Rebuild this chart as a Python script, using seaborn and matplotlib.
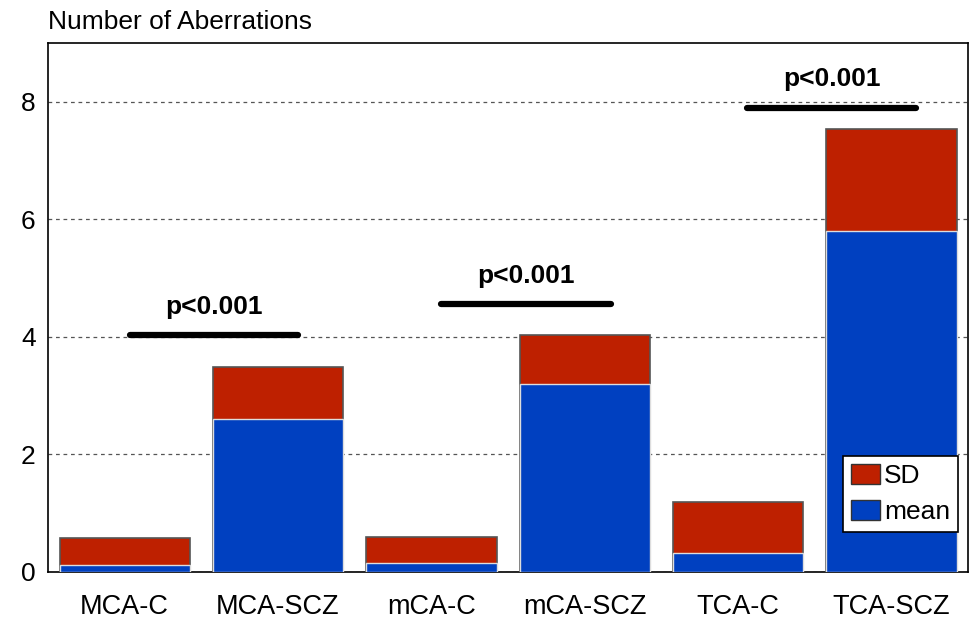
import matplotlib
matplotlib.use("Agg")
import matplotlib.pyplot as plt
import seaborn as sns
import pandas as pd
import numpy as np
from matplotlib.patches import Patch

categories = ["MCA-C", "MCA-SCZ", "mCA-C", "mCA-SCZ", "TCA-C", "TCA-SCZ"]
mean_vals = [0.12, 2.60, 0.15, 3.20, 0.32, 5.80]
sd_vals = [0.46, 0.89, 0.45, 0.83, 0.87, 1.74]
sig_labels = ["p<0.001", "p<0.001", "p<0.001"]
sig_heights = [4.03, 4.56, 7.90]
sig_spans = [(0.035, 1.13), (2.06, 3.17), (4.06, 5.16)]
yticks = [0, 2, 4, 6, 8]

sns.set_style("white")
plt.rcParams['font.family'] = ['Liberation Sans', 'DejaVu Sans']
plt.rcParams['text.color'] = 'black'

df = pd.DataFrame({"cat": categories, "mean": mean_vals,
                   "total": np.array(mean_vals) + np.array(sd_vals)})

fig = plt.figure(figsize=(9.7, 6.19), dpi=100)
ax = fig.add_axes([0.0495, 0.076, 0.9485, 0.8545])

red = "#BE2000"
blue = "#0040C0"
sns.barplot(data=df, x="cat", y="total", color=red, saturation=1, width=0.85,
            edgecolor="#555555", linewidth=1.2, ax=ax, zorder=3)
sns.barplot(data=df, x="cat", y="mean", color=blue, saturation=1, width=0.85,
            edgecolor="#dddddd", linewidth=1.0, ax=ax, zorder=3)

ax.set_ylim(0, 9)
ax.set_xlim(-0.5, 5.5)
ax.set_yticks(yticks)
ax.set_yticklabels([str(t) for t in yticks])
ax.yaxis.grid(True, linestyle=(0, (3, 3)), color="#555555", linewidth=0.9, zorder=0)
ax.xaxis.grid(False)
ax.set_axisbelow(True)
ax.set_xlabel("")
ax.set_ylabel("")
ax.tick_params(axis="y", labelsize=19, length=0, pad=9, colors="black")
ax.tick_params(axis="x", labelsize=19.5, length=0, pad=16, colors="black")
for s in ax.spines.values():
    s.set_visible(True)
    s.set_color("black")
    s.set_linewidth(1.2)

for lab, h, (x0, x1) in zip(sig_labels, sig_heights, sig_spans):
    ax.plot([x0, x1], [h, h], color="black", linewidth=4.5, solid_capstyle="round", zorder=5)
    ax.text((x0 + x1) / 2, h + 0.28, lab, ha="center", va="bottom",
            fontsize=19, fontweight="bold", color="black", zorder=5)

fig.text(0.0495, 0.945, "Number of Aberrations", ha="left", va="bottom",
         fontsize=19, color="black")

handles = [Patch(facecolor=red, edgecolor="#333333", label="SD"),
           Patch(facecolor=blue, edgecolor="#333333", label="mean")]
leg = ax.legend(handles=handles, loc="lower right", bbox_to_anchor=(0.989, 0.075),
                fontsize=19, frameon=True, fancybox=False, edgecolor="black",
                framealpha=1, handlelength=1.1, handleheight=0.8, handletextpad=0.15,
                borderpad=0.3, labelspacing=0.45, borderaxespad=0)
leg.get_frame().set_linewidth(1.2)
leg.set_zorder(6)

fig.savefig("out.png", dpi=100)
